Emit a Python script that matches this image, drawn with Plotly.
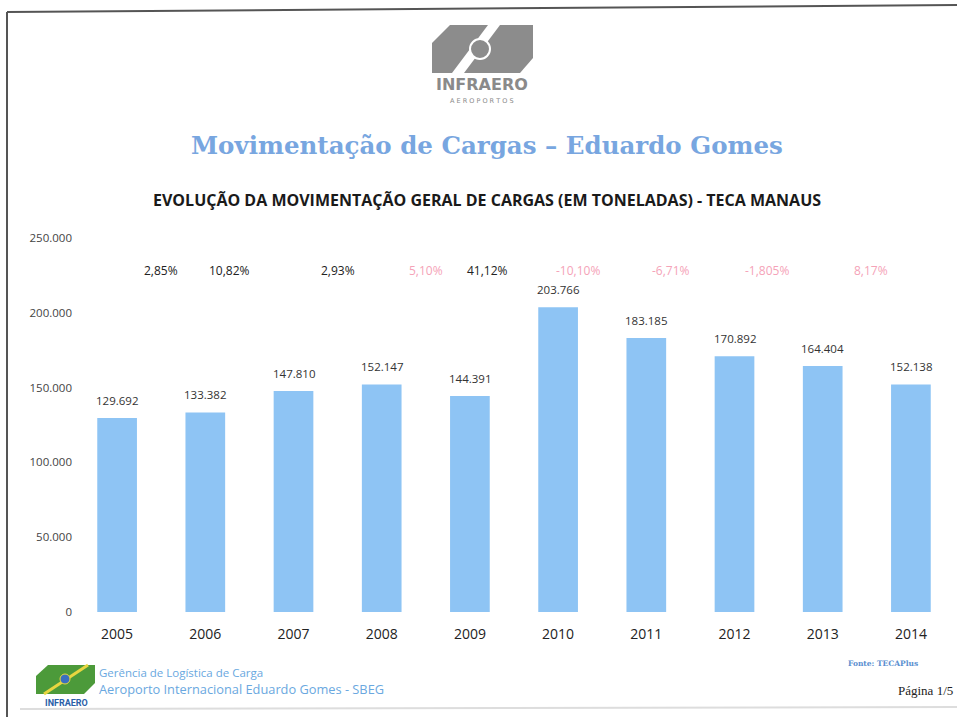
import plotly.graph_objects as go

# dados (toneladas)
anos = ["2005", "2006", "2007", "2008", "2009", "2010", "2011", "2012", "2013", "2014"]
toneladas = [129692, 133382, 147810, 152147, 144391, 203766, 183185, 170892, 164404, 152138]
variacao = ["2,85%", "10,82%", "2,93%", "5,10%", "41,12%", "-10,10%", "-6,71%", "-1,805%", "8,17%"]
variacao_negativa = [False, False, False, True, False, True, True, True, True]

# deslocamento horizontal (px) dos rotulos de variacao, como no original
desloc_variacao = [0, -20, 0, 0, -27, -24, -19, -12, 4]

W, H = 957, 717
ML, MR, MT, MB = 73, 2, 238, 105
PW, PH = W - ML - MR, H - MT - MB


def px(x):
    return (x - ML) / PW


def py(y):
    return (H - MB - y) / PH


def texto(x, y, txt, font, xanchor="center"):
    return dict(x=px(x), y=py(y), xref="paper", yref="paper", text=txt, showarrow=False,
                xanchor=xanchor, yanchor="middle", font=font)


fig = go.Figure()
fig.add_trace(go.Bar(
    x=list(range(len(anos))),
    y=toneladas,
    marker=dict(color="#8ec4f4", line=dict(width=0)),
    width=0.45,
    hoverinfo="skip",
))

annotations = []
# valores acima das barras
for i, v in enumerate(toneladas):
    annotations.append(dict(
        x=i, y=v, xref="x", yref="y", xanchor="center", yanchor="bottom", yshift=8,
        text=f"{v:,}".replace(",", "."), showarrow=False,
        font=dict(family="Open Sans", size=11.5, color="#333333"),
    ))

for i, (txt, neg) in enumerate(zip(variacao, variacao_negativa)):
    annotations.append(dict(
        x=i + 0.5, y=py(270), xref="x", yref="paper", xanchor="center", yanchor="middle",
        xshift=desloc_variacao[i], text=txt, showarrow=False,
        font=dict(family="Open Sans", size=12, color="#f5a3b8" if neg else "#222222"),
    ))

annotations += [
    texto(487, 146, "<b>Movimentação de Cargas – Eduardo Gomes</b>",
          dict(family="DejaVu Serif", size=24.5, color="#78a6e0")),
    texto(487, 200, "<b>EVOLUÇÃO DA MOVIMENTAÇÃO GERAL DE CARGAS (EM TONELADAS) - TECA MANAUS</b>",
          dict(family="Open Sans", size=16, color="#1a1a1a")),
    texto(482, 85, "<b>INFRAERO</b>", dict(family="DejaVu Sans", size=16, color="#8a8a8a")),
    texto(482, 101, "A E R O P O R T O S", dict(family="DejaVu Sans", size=6.5, color="#8a8a8a")),
    # rodape
    texto(97, 672, "Gerência de Logística de Carga",
          dict(family="Open Sans", size=11.5, color="#6aa8e0"), "left"),
    texto(97, 689, "Aeroporto Internacional Eduardo Gomes - SBEG",
          dict(family="Open Sans", size=12.8, color="#6aa8e0"), "left"),
    texto(66, 703, "<b>INFRAERO</b>", dict(family="Roboto", size=9, color="#2c5fa8")),
    texto(883, 663, "<b>Fonte: TECAPlus</b>", dict(family="DejaVu Serif", size=7.5, color="#5b8fd0")),
    texto(955, 690, "Página 1/5", dict(family="Liberation Serif", size=13, color="#222222"), "right"),
]


def poly(pts):
    return "M " + " L ".join(f"{px(x)},{py(y)}" for x, y in pts) + " Z"


shapes = [
    # moldura da pagina
    dict(type="line", xref="paper", yref="paper", x0=px(7), y0=py(12), x1=px(957), y1=py(5),
         line=dict(color="#555555", width=2)),
    dict(type="line", xref="paper", yref="paper", x0=px(7), y0=py(12), x1=px(7), y1=py(717),
         line=dict(color="#555555", width=2)),
    dict(type="line", xref="paper", yref="paper", x0=px(20), y0=py(709), x1=px(957), y1=py(707),
         line=dict(color="#dddddd", width=2)),
    # logo infraero topo
    dict(type="path", xref="paper", yref="paper",
         path=poly([(450, 25), (488, 25), (452, 73), (432, 73), (432, 43)]),
         fillcolor="#8c8c8c", line=dict(width=0)),
    dict(type="path", xref="paper", yref="paper",
         path=poly([(500, 25), (533, 25), (533, 58), (520, 73), (464, 73)]),
         fillcolor="#8c8c8c", line=dict(width=0)),
    dict(type="circle", xref="paper", yref="paper", x0=px(470), y0=py(39), x1=px(490), y1=py(59),
         fillcolor="#8c8c8c", line=dict(color="white", width=2)),
    # logo infraero rodape
    dict(type="path", xref="paper", yref="paper",
         path=poly([(36, 676), (48, 665), (95, 665), (95, 683), (84, 694), (36, 694)]),
         fillcolor="#4c9a3a", line=dict(width=0)),
    dict(type="line", xref="paper", yref="paper", x0=px(44), y0=py(694), x1=px(88), y1=py(665),
         line=dict(color="#e8d640", width=3)),
    dict(type="circle", xref="paper", yref="paper", x0=px(60), y0=py(674), x1=px(70), y1=py(684),
         fillcolor="#3a6fc0", line=dict(color="#e8d640", width=1)),
]

fig.update_layout(
    width=W, height=H,
    margin=dict(l=ML, r=MR, t=MT, b=MB),
    paper_bgcolor="white", plot_bgcolor="white",
    showlegend=False,
    annotations=annotations,
    shapes=shapes,
    separators=",.",
    xaxis=dict(
        tickmode="array", tickvals=list(range(len(anos))), ticktext=anos,
        range=[-0.5, len(anos) - 0.5], showgrid=False, zeroline=False, showline=False,
        ticks="", ticklabelstandoff=12,
        tickfont=dict(family="Open Sans", size=14, color="#222222"),
    ),
    yaxis=dict(
        range=[0, 250000], dtick=50000, tickformat=",d", showgrid=False, zeroline=False,
        showline=False, ticks="", tickfont=dict(family="Open Sans", size=11.5, color="#444444"),
    ),
)

# tira a margem padrao do body para o grafico ocupar a janela inteira
fig.write_html("out.html", config={"displayModeBar": False},
               post_script="document.body.style.margin='0';")
